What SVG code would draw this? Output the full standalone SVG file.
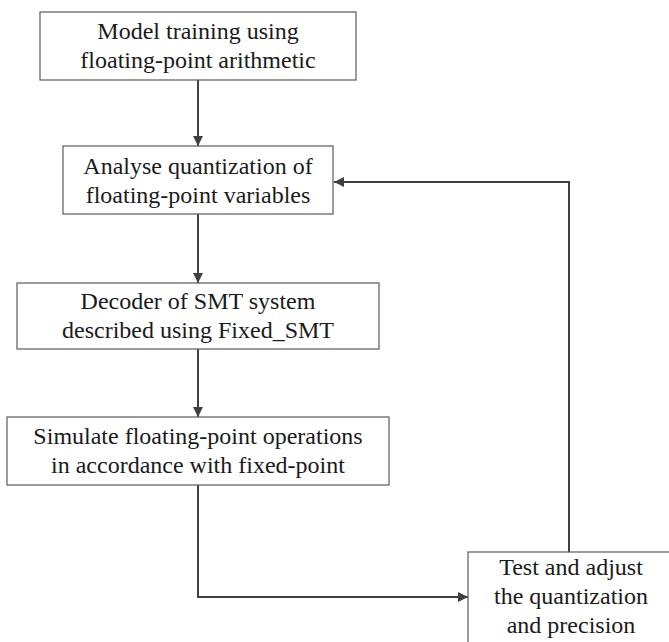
<svg xmlns="http://www.w3.org/2000/svg" width="669" height="642" viewBox="0 0 669 642">
  <style>
    .box { fill: #ffffff; stroke: #5a5a5a; stroke-width: 1.2; }
    .label { font-size: 24px; fill: #1a1a1a; text-anchor: middle; }
    .wire { fill: none; stroke: #404040; stroke-width: 2; }
  </style>
  <defs>
    <marker id="arrow" viewBox="0 0 10 10" refX="10" refY="5" markerWidth="5" markerHeight="5" orient="auto" markerUnits="strokeWidth">
      <path d="M0,0 L10,5 L0,10 Z" fill="#404040"/>
    </marker>
  </defs>
  <rect width="669" height="642" fill="#ffffff"/>

  <g id="connectors">
    <line class="wire" x1="198" y1="80" x2="198" y2="146" marker-end="url(#arrow)"/>
    <line class="wire" x1="198" y1="214" x2="198" y2="283" marker-end="url(#arrow)"/>
    <line class="wire" x1="198" y1="349" x2="198" y2="417" marker-end="url(#arrow)"/>
    <polyline class="wire" points="198,485 198,597 468,597" marker-end="url(#arrow)"/>
    <polyline class="wire" points="569,552 569,182 334,182" marker-end="url(#arrow)"/>
  </g>

  <g font-family="'Liberation Serif', 'DejaVu Serif', serif">
    <g id="node-training">
      <rect class="box" x="40" y="12" width="316" height="68"/>
      <text class="label" x="198" y="39">Model training using</text>
      <text class="label" x="198" y="68">floating-point arithmetic</text>
    </g>

    <g id="node-analyse">
      <rect class="box" x="63" y="146" width="270" height="68"/>
      <text class="label" x="198" y="174">Analyse quantization of</text>
      <text class="label" x="198" y="203">floating-point variables</text>
    </g>

    <g id="node-decoder">
      <rect class="box" x="17" y="283" width="362" height="66"/>
      <text class="label" x="198" y="309">Decoder of SMT system</text>
      <text class="label" x="198" y="338">described using Fixed_SMT</text>
    </g>

    <g id="node-simulate">
      <rect class="box" x="7" y="417" width="382" height="68"/>
      <text class="label" x="198" y="444">Simulate floating-point operations</text>
      <text class="label" x="198" y="473">in accordance with fixed-point</text>
    </g>

    <g id="node-test">
      <rect class="box" x="468" y="552" width="206" height="100"/>
      <text class="label" x="571" y="575">Test and adjust</text>
      <text class="label" x="571" y="604">the quantization</text>
      <text class="label" x="571" y="633">and precision</text>
    </g>
  </g>
</svg>
